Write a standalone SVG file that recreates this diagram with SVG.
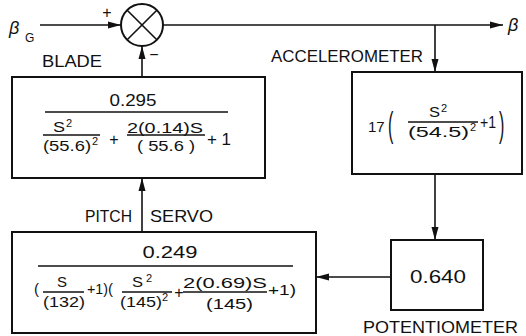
<svg xmlns="http://www.w3.org/2000/svg" width="526" height="336" viewBox="0 0 526 336">
<style>
text{font-family:"Liberation Sans",Arial,sans-serif;fill:#111}
.lbl{font-size:17px}
.num{font-size:16px}
.sm{font-size:15px}
.sup{font-size:11px}
.box{fill:#fff;stroke:#111;stroke-width:2}
.ln{stroke:#111;stroke-width:1.6;fill:none}
.fr{stroke:#111;stroke-width:1.4}
.it{font-style:italic}
</style>
<defs>
<marker id="ah" markerUnits="userSpaceOnUse" markerWidth="13" markerHeight="8" refX="13" refY="4" orient="auto">
<path d="M0,0.5 L13,4 L0,7.5 z" fill="#111"/>
</marker>
</defs>
<rect width="526" height="336" fill="#fff"/>

<g id="connectors">
<line class="ln" x1="40" y1="25" x2="121" y2="25" marker-end="url(#ah)"/>
<line class="ln" x1="163" y1="25" x2="503" y2="25" marker-end="url(#ah)"/>
<line class="ln" x1="435" y1="25" x2="435" y2="72" marker-end="url(#ah)"/>
<line class="ln" x1="435" y1="174" x2="435" y2="240" marker-end="url(#ah)"/>
<line class="ln" x1="391" y1="277" x2="316" y2="277" marker-end="url(#ah)"/>
<line class="ln" x1="142" y1="232" x2="142" y2="178" marker-end="url(#ah)"/>
<line class="ln" x1="142" y1="77" x2="142" y2="46" marker-end="url(#ah)"/>
</g>

<g id="input">
<text class="it" x="9" y="34" font-size="18">β</text>
<text x="25" y="42" font-size="12">G</text>
<text x="107" y="18" font-size="16" text-anchor="middle">+</text>
<text class="lbl" x="42" y="67" textLength="60" lengthAdjust="spacingAndGlyphs">BLADE</text>
</g>

<g id="sum">
<circle cx="142" cy="25" r="21" fill="#fff" stroke="#111" stroke-width="2"/>
<line class="ln" x1="127.2" y1="10.2" x2="156.8" y2="39.8"/>
<line class="ln" x1="156.8" y1="10.2" x2="127.2" y2="39.8"/>
<text x="154" y="60" font-size="16" text-anchor="middle">−</text>
</g>

<g id="output">
<text class="it" x="508" y="31" font-size="18">β</text>
</g>

<g id="blade">
<rect class="box" x="12" y="77" width="253" height="101"/>
<text class="num" x="133" y="106" text-anchor="middle" textLength="47" lengthAdjust="spacingAndGlyphs">0.295</text>
<line class="fr" x1="45" y1="112" x2="228" y2="112"/>
<text class="sm" x="53" y="132" textLength="12" lengthAdjust="spacingAndGlyphs">S</text>
<text class="sup" x="66" y="127">2</text>
<line class="fr" x1="43" y1="135" x2="100" y2="135"/>
<text class="sm" x="43" y="151" textLength="48" lengthAdjust="spacingAndGlyphs">(55.6)</text>
<text class="sup" x="92" y="145">2</text>
<text class="num" x="114" y="145" text-anchor="middle">+</text>
<text class="sm" x="127" y="133" textLength="76" lengthAdjust="spacingAndGlyphs">2(0.14)S</text>
<line class="fr" x1="127" y1="135" x2="205" y2="135"/>
<text class="sm" x="137" y="151" textLength="58" lengthAdjust="spacingAndGlyphs">( 55.6 )</text>
<text class="num" x="207" y="145" textLength="24" lengthAdjust="spacingAndGlyphs">+ 1</text>
</g>

<g id="accelerometer">
<text class="lbl" x="271" y="62" textLength="152" lengthAdjust="spacingAndGlyphs">ACCELEROMETER</text>
<rect class="box" x="352" y="72" width="170" height="102"/>
<text x="368" y="132" font-size="15">17</text>
<text font-size="16" transform="translate(388,137) scale(1,2.2)">(</text>
<text class="sm" x="429" y="117" textLength="11" lengthAdjust="spacingAndGlyphs">S</text>
<text class="sup" x="441" y="112">2</text>
<line class="fr" x1="408" y1="122" x2="478" y2="122"/>
<text class="sm" x="408" y="137" textLength="61" lengthAdjust="spacingAndGlyphs">(54.5)</text>
<text class="sup" x="470" y="131">2</text>
<text class="num" x="480" y="128" textLength="16" lengthAdjust="spacingAndGlyphs">+1</text>
<text font-size="16" transform="translate(499,137) scale(1,2.2)">)</text>
</g>

<g id="potentiometer">
<rect class="box" x="391" y="240" width="92" height="70"/>
<text x="410" y="283" font-size="18" textLength="56" lengthAdjust="spacingAndGlyphs">0.640</text>
<text class="lbl" x="363" y="333" textLength="155" lengthAdjust="spacingAndGlyphs">POTENTIOMETER</text>
</g>

<g id="pitch-servo">
<text class="lbl" x="85" y="222" textLength="47" lengthAdjust="spacingAndGlyphs">PITCH</text>
<text class="lbl" x="150" y="222" textLength="63" lengthAdjust="spacingAndGlyphs">SERVO</text>
<rect class="box" x="12" y="232" width="304" height="101"/>
<text class="num" x="170" y="258" text-anchor="middle" textLength="55" lengthAdjust="spacingAndGlyphs">0.249</text>
<line class="fr" x1="38" y1="266" x2="293" y2="266"/>
<text class="sm" x="34" y="294">(</text>
<text class="sm" x="57" y="287" textLength="10" lengthAdjust="spacingAndGlyphs">S</text>
<line class="fr" x1="43" y1="292" x2="84" y2="292"/>
<text class="sm" x="43" y="307" textLength="42" lengthAdjust="spacingAndGlyphs">(132)</text>
<text class="sm" x="87" y="294" textLength="21" lengthAdjust="spacingAndGlyphs">+1)</text>
<text class="sm" x="108" y="294">(</text>
<text class="sm" x="132" y="287" textLength="11" lengthAdjust="spacingAndGlyphs">S</text>
<text class="sup" x="146" y="282">2</text>
<line class="fr" x1="122" y1="292" x2="172" y2="292"/>
<text class="sm" x="120" y="307" textLength="42" lengthAdjust="spacingAndGlyphs">(145)</text>
<text class="sup" x="162" y="301">2</text>
<text class="num" x="179" y="298" text-anchor="middle">+</text>
<text class="sm" x="183" y="288" textLength="84" lengthAdjust="spacingAndGlyphs">2(0.69)S</text>
<line class="fr" x1="183" y1="292" x2="267" y2="292"/>
<text class="sm" x="206" y="309" textLength="47" lengthAdjust="spacingAndGlyphs">(145)</text>
<text class="sm" x="268" y="295" textLength="28" lengthAdjust="spacingAndGlyphs">+1)</text>
</g>
</svg>
